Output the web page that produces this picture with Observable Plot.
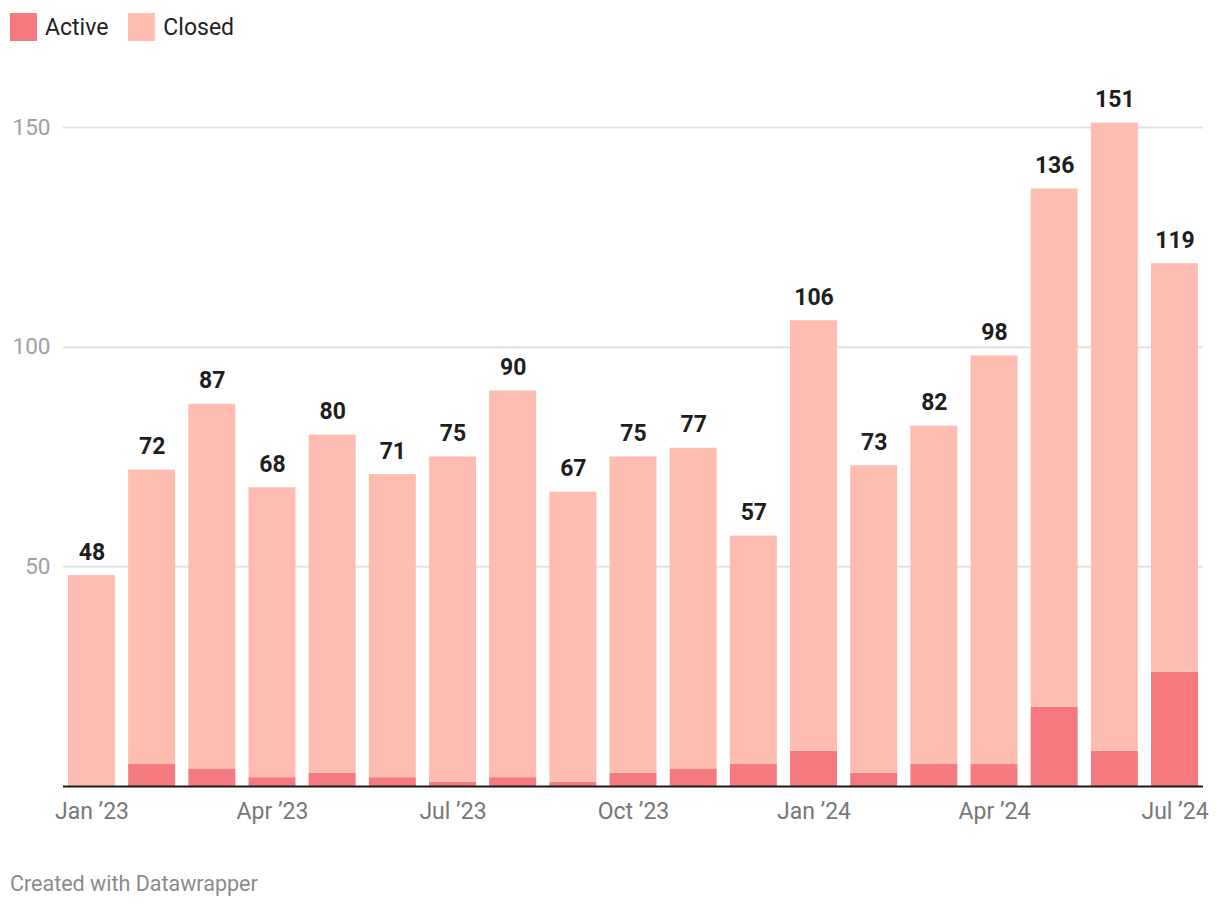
<!DOCTYPE html>
<html>
<head>
<meta charset="utf-8">
<script src="https://cdn.jsdelivr.net/npm/d3@7"></script>
<script src="https://cdn.jsdelivr.net/npm/@observablehq/plot@0.6"></script>
<style>
  html, body { margin: 0; padding: 0; background: #fff; font-family: Roboto, sans-serif; }
  #wrap { position: relative; width: 1220px; height: 910px; }
  #legend { position: absolute; left: 10px; top: 13px; display: flex; align-items: center; font-size: 23px; color: #222; }
  .item { display: flex; align-items: center; margin-right: 20px; }
  .sw { width: 27px; height: 28px; margin-right: 8px; }
  #chart { position: absolute; left: 0; top: 0; }
  #footer { position: absolute; left: 10px; top: 871px; font-size: 21.5px; color: #8a8a8a; }
</style>
</head>
<body>
<div id="wrap">
  <div id="chart"></div>
  <div id="legend"></div>
  <div id="footer">Created with Datawrapper</div>
</div>
<script>
const months = ["2023-01","2023-02","2023-03","2023-04","2023-05","2023-06","2023-07","2023-08","2023-09","2023-10","2023-11","2023-12","2024-01","2024-02","2024-03","2024-04","2024-05","2024-06","2024-07"];
const totals = [48,72,87,68,80,71,75,90,67,75,77,57,106,73,82,98,136,151,119];
const active = [0,5,4,2,3,2,1,2,1,3,4,5,8,3,5,5,18,8,26];
const closed = [48,67,83,66,77,69,74,88,66,72,73,52,98,70,77,93,118,143,93];
const seriesNames = ["Active","Closed"];
const seriesColors = ["#f47a80","#ffbcb0"];
const tickMonths = ["2023-01","2023-04","2023-07","2023-10","2024-01","2024-04","2024-07"];
const tickLabels = ["Jan ’23","Apr ’23","Jul ’23","Oct ’23","Jan ’24","Apr ’24","Jul ’24"];
const yTicks = [50,100,150];

const long = [];
months.forEach((m,i) => {
  long.push({month: m, series: "Active", value: active[i]});
  long.push({month: m, series: "Closed", value: closed[i]});
});
const totalData = months.map((m,i) => ({month: m, total: totals[i]}));
const tickLabelMap = new Map(tickMonths.map((m,i) => [m, tickLabels[i]]));

const chart = Plot.plot({
  width: 1220,
  height: 860,
  marginTop: 127,
  marginBottom: 74,
  marginLeft: 63,
  marginRight: 17,
  style: {fontFamily: "Roboto, sans-serif", background: "transparent", overflow: "visible"},
  x: {domain: months, paddingInner: 0.219, paddingOuter: 0.083, align: 0.5, round: false, axis: null, label: null},
  y: {domain: [0,150], axis: null, label: null},
  color: {domain: seriesNames, range: seriesColors},
  marks: [
    Plot.gridY(yTicks, {stroke: "#e3e3e3", strokeOpacity: 1, strokeWidth: 2}),
    Plot.axisY(yTicks, {tickSize: 0, tickPadding: 13, fontSize: 22.5, fill: "#a0a0a0", label: null, tickFormat: d => String(d)}),
    Plot.barY(long, {x: "month", y: "value", fill: "series", order: seriesNames}),
    Plot.ruleY([0], {stroke: "#1a1a1a", strokeWidth: 2}),
    Plot.axisX(tickMonths, {tickSize: 0, tickPadding: 16, fontSize: 23, fill: "#777", label: null, tickFormat: d => tickLabelMap.get(d)}),
    Plot.text(totalData, {x: "month", y: "total", text: d => String(d.total), lineAnchor: "bottom", dy: -16, fontSize: 23, fontWeight: "bold", fill: "#1e1e1e"})
  ]
});
document.getElementById("chart").appendChild(chart);

const legend = document.getElementById("legend");
seriesNames.forEach((s,i) => {
  const it = document.createElement("div");
  it.className = "item";
  const sw = document.createElement("div");
  sw.className = "sw";
  sw.style.background = seriesColors[i];
  const t = document.createElement("span");
  t.textContent = s;
  it.appendChild(sw); it.appendChild(t);
  legend.appendChild(it);
});
</script>
</body>
</html>
